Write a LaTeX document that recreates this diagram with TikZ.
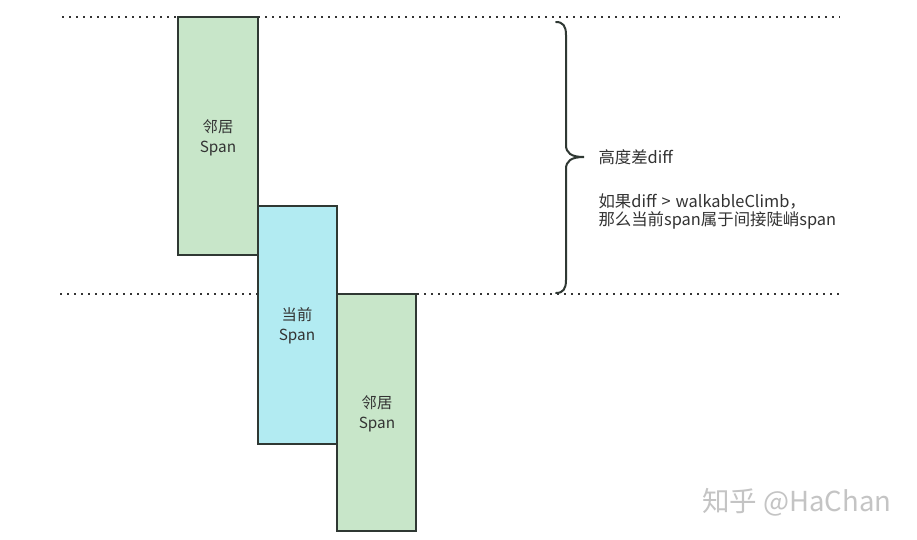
\documentclass[tikz,border=0pt]{standalone}
\usepackage{fontspec}
\setmainfont{Noto Sans CJK SC}
\begin{document}
\begin{tikzpicture}[x=1pt,y=-1pt,
  spanbox/.style={draw=boxline,line width=2pt},
  nbr/.style={spanbox,fill=nbrgreen},
  cur/.style={spanbox,fill=curcyan},
  lbl/.style={font=\fontsize{15.3}{20}\selectfont,text=txt,align=center},
  note/.style={font=\fontsize{16.4}{21}\selectfont,text=txt,align=left,anchor=west},
  dotline/.style={line width=2.4pt,dash pattern=on 2.4pt off 4.6pt,draw=dotc},
]
\definecolor{boxline}{HTML}{2F3833}
\definecolor{nbrgreen}{HTML}{C8E6C9}
\definecolor{curcyan}{HTML}{B2EBF2}
\definecolor{txt}{HTML}{333333}
\definecolor{dotc}{HTML}{333333}
\definecolor{wm}{HTML}{C4C4C4}
\useasboundingbox (0,0) rectangle (917,539);
\fill[white] (0,0) rectangle (917,539);
% dotted lines
\coordinate (t1) at (62,17); \coordinate (t2) at (840,17);
\coordinate (b1) at (60,294); \coordinate (b2) at (840,294);
\draw[dotline] (t1) -- (t2);
\draw[dotline] (b1) -- (b2);
% boxes
\draw[nbr] (178,17) rectangle (258,255);
\node[lbl] (n1) at (218,138) {邻居\\Span};
\draw[cur] (258,206) rectangle (337,444);
\node[lbl] (c) at (297,326) {当前\\Span};
\draw[nbr] (337,294) rectangle (416,531);
\node[lbl] (n2) at (377,414) {邻居\\Span};
% brace
\draw[line width=2pt,draw=boxline,line cap=round]
  (556,22) .. controls (563,22) and (566,26) .. (566,35) -- (566,145)
  .. controls (566,153) and (571,157) .. (584,157)
  .. controls (571,157) and (566,161) .. (566,169) -- (566,280)
  .. controls (566,289) and (563,293) .. (556,293);
\node[note] (d) at (595,157) {高度差diff};
\node[note] (e) at (595,211) {如果diff\hspace{5pt}>\hspace{5pt}walkableClimb，\\[-3pt]那么当前span属于间接陡峭span};
% watermark
\node[font=\fontsize{27.5}{32}\selectfont,text=wm,anchor=east] (w) at (895,502) {知乎 @HaChan};
\end{tikzpicture}
\end{document}
